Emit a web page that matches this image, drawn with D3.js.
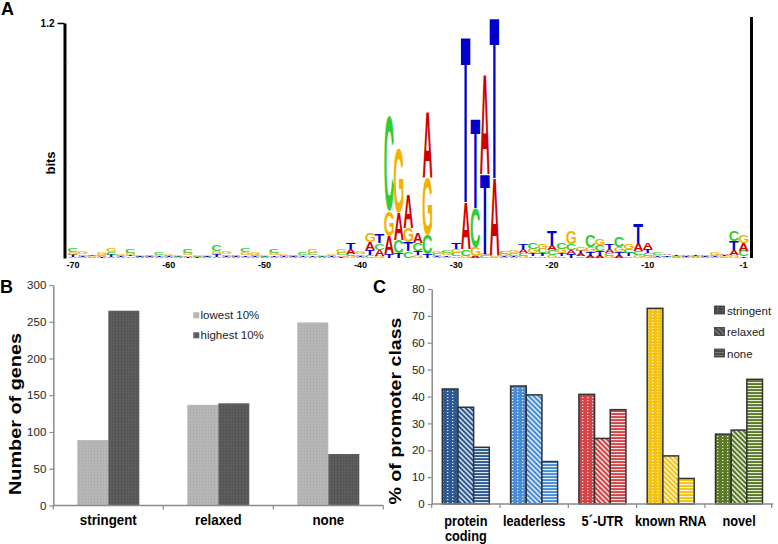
<!DOCTYPE html>
<html><head><meta charset="utf-8">
<script src="https://cdn.jsdelivr.net/npm/d3@7"></script>
<style>
body{margin:0;background:#fff}
svg{display:block}
text{font-family:'Liberation Sans',Arial,Helvetica,sans-serif}
</style>
</head><body>
<svg id="chart" width="778" height="544"></svg>
<script>
// ---------------- DATA ----------------
// Panel A: sequence logo, 71 columns (-70 ... -1), information content per base (bits)
const logoPositions = d3.range(-70, 1);
const logoTickValues = [-70, -60, -50, -40, -30, -20, -10, 0];
const logoTickLabels = ["-70", "-60", "-50", "-40", "-30", "-20", "-10", "-1"];
const bitsA = [.006,.005,.004,.005,.006,.004,.008,.003,.003,.004,.004,.003,.008,.004,.003,.006,.005,.003,.005,.004,.003,.006,.004,.003,.004,.005,.003,.004,.008,.025,.006,.04,.03,.09,.14,.17,.05,.34,.005,.005,.008,.24,.01,.51,.40,.005,.006,.02,.008,.008,.025,.008,.02,.015,.01,.01,.02,.01,.008,.04,.035,.004,.008,.003,.006,.003,.003,.004,.008,.025,.038];
const bitsC = [.02,.008,.006,.007,.015,.006,.02,.003,.004,.01,.007,.004,.018,.005,.003,.03,.008,.004,.02,.008,.004,.022,.006,.004,.01,.012,.004,.005,.012,.012,.008,.015,.035,.485,.065,.035,.04,.10,.012,.015,.018,.035,.2,.01,.005,.015,.012,.015,.035,.024,.024,.035,.035,.008,.06,.03,.015,.05,.02,.02,.015,.01,.004,.003,.003,.003,.004,.006,.004,.055,.03];
const bitsG = [.012,.01,.004,.01,.022,.006,.01,.004,.003,.008,.008,.004,.012,.006,.004,.015,.012,.003,.015,.014,.004,.01,.008,.003,.006,.018,.004,.008,.02,.01,.01,.045,.01,.128,.33,.075,.015,.29,.015,.01,.02,.012,.045,.01,.005,.01,.015,.01,.025,.028,.015,.025,.065,.02,.025,.035,.01,.025,.025,.015,.01,.008,.003,.003,.003,.003,.003,.01,.005,.015,.042];
const bitsT = [.01,.005,.004,.004,.01,.004,.008,.003,.003,.004,.004,.003,.006,.003,.003,.012,.005,.003,.008,.005,.003,.008,.004,.003,.004,.008,.003,.004,.006,.03,.006,.025,.045,.02,.025,.045,.02,.02,.005,.008,.035,.85,.455,.41,.82,.005,.006,.025,.015,.015,.07,.015,.018,.015,.02,.025,.025,.02,.018,.1,.02,.004,.006,.003,.005,.003,.003,.004,.006,.045,.008];
const bitsTicks = [1.2];

// Panel B
const promoterTypes = ["stringent", "relaxed", "none"];
const expressionGroups = ["lowest 10%", "highest 10%"];
const lowest10 = [89, 137, 249];
const highest10 = [265, 139, 70];
const genesTicks = [0, 50, 100, 150, 200, 250, 300];

// Panel C
const geneClasses = ["protein\ncoding", "leaderless", "5\u00B4-UTR", "known RNA", "novel"];
const promoterClasses = ["stringent", "relaxed", "none"];
const pctStringent = [42.8, 43.9, 40.8, 72.8, 26.0];
const pctRelaxed = [36.0, 40.6, 24.4, 17.9, 27.5];
const pctNone = [21.1, 15.8, 35.1, 9.5, 46.4];
const pctTicks = [0, 10, 20, 30, 40, 50, 60, 70, 80];

// ---------------- STYLE ----------------
const baseColors = {A: "#d00000", C: "#33cc33", G: "#f2b200", T: "#0000cc"};
const classColors = ["#2c5a94", "#4a8cd6", "#d24548", "#f3c412", "#5a7a25"];
const FONT = "'Liberation Sans', Arial, Helvetica, sans-serif";

const svg = d3.select("#chart");
const defs = svg.append("defs");

// compress a text horizontally (along its baseline) to ratio of its natural length
function squeeze(sel, ratio) {
  sel.each(function () {
    const n = this.getComputedTextLength();
    d3.select(this).attr("textLength", n * ratio).attr("lengthAdjust", "spacingAndGlyphs");
  });
}

// ---------------- PANEL A ----------------
const yA = d3.scaleLinear().domain([0, 1.2]).range([258, 23]);
const xA = d3.scaleBand().domain(logoPositions).range([68.2, 748.4]).padding(0);
const gA = svg.append("g");

const ctx = document.createElement("canvas").getContext("2d");
ctx.font = "bold 100px " + FONT;
const metrics = {};
["A", "C", "G", "T"].forEach(L => {
  const m = ctx.measureText(L);
  metrics[L] = {
    left: m.actualBoundingBoxLeft,
    w: m.actualBoundingBoxLeft + m.actualBoundingBoxRight,
    asc: m.actualBoundingBoxAscent,
    desc: m.actualBoundingBoxDescent
  };
});

const bits = {A: bitsA, C: bitsC, G: bitsG, T: bitsT};
const colW = xA.bandwidth() * 1.0;
logoPositions.forEach((p, i) => {
  const stack = ["A", "C", "G", "T"].map(L => ({L, h: bits[L][i]})).sort((a, b) => a.h - b.h);
  let yb = yA(0);
  const x0 = xA(p) + (xA.bandwidth() - colW) / 2;
  stack.forEach(s => {
    const hp = yA(0) - yA(s.h);
    if (hp <= 0) return;
    const m = metrics[s.L];
    const sx = colW / m.w, sy = hp / (m.asc + m.desc);
    gA.append("text")
      .attr("transform", `translate(${x0},${yb}) scale(${sx},${sy})`)
      .attr("x", m.left).attr("y", -m.desc)
      .attr("font-size", 100).attr("font-weight", "bold")
      .attr("fill", baseColors[s.L])
      .text(s.L);
    yb -= hp;
  });
});

const axA = gA.append("g").attr("transform", "translate(64.5,0)")
  .call(d3.axisLeft(yA).tickValues(bitsTicks).tickFormat(d3.format(".1f")).tickSize(7).tickPadding(3).tickSizeOuter(0));
axA.select(".domain").attr("stroke", "#000").attr("stroke-width", 3);
axA.selectAll(".tick line").attr("stroke", "#000").attr("stroke-width", 1.5);
axA.selectAll(".tick text").attr("font-family", FONT).attr("font-weight", "bold").attr("font-size", 10).attr("fill", "#000");
[0.5, 1.0].forEach(v => gA.append("line").attr("x1", 66).attr("x2", 68).attr("y1", yA(v)).attr("y2", yA(v)).attr("stroke", "#bbb").attr("stroke-width", 1));
gA.append("line").attr("x1", 751.5).attr("x2", 751.5).attr("y1", 17).attr("y2", 258).attr("stroke", "#000").attr("stroke-width", 3);
const axAx = gA.append("g").attr("transform", "translate(0,259)")
  .call(d3.axisBottom(xA).tickValues(logoTickValues).tickFormat((d, i) => logoTickLabels[i]).tickSize(0).tickPadding(3));
axAx.select(".domain").remove();
axAx.selectAll(".tick text").attr("font-family", FONT).attr("font-weight", "bold").attr("font-size", 9).attr("fill", "#000");
gA.append("text").attr("transform", "translate(55,163) rotate(-90)").attr("text-anchor", "middle")
  .attr("font-weight", "bold").attr("font-size", 13).text("bits");
svg.append("text").attr("x", 1).attr("y", 15).attr("font-weight", "bold").attr("font-size", 18).text("A");

// ---------------- PANEL B ----------------
function stipple(id, base, dot) {
  const p = defs.append("pattern").attr("id", id).attr("patternUnits", "userSpaceOnUse").attr("width", 3).attr("height", 3);
  p.append("rect").attr("width", 3).attr("height", 3).attr("fill", base);
  p.append("rect").attr("x", 1).attr("y", 1).attr("width", 1).attr("height", 1).attr("fill", dot);
}
stipple("stLight", "#b6b6b6", "#a3a3a3");
stipple("stDark", "#5c5c5c", "#474747");
const fillB = ["url(#stLight)", "url(#stDark)"];

const yB = d3.scaleLinear().domain([0, 300]).range([505.5, 285]);
const xB = d3.scaleBand().domain(promoterTypes).range([53.3, 383.3]).padding(0);
const xB1 = d3.scaleBand().domain(expressionGroups).range([24, 86]).padding(0);
const gB = svg.append("g");
const seriesB = [lowest10, highest10];

promoterTypes.forEach((t, i) => {
  expressionGroups.forEach((gname, j) => {
    const v = seriesB[j][i];
    gB.append("rect")
      .attr("x", xB(t) + xB1(gname)).attr("width", xB1.bandwidth())
      .attr("y", yB(v)).attr("height", yB(0) - yB(v))
      .attr("fill", fillB[j]);
  });
});

const axB = gB.append("g").attr("transform", `translate(${xB.range()[0]},0)`)
  .call(d3.axisLeft(yB).tickValues(genesTicks).tickSize(4).tickPadding(3).tickSizeOuter(0));
axB.select(".domain").attr("stroke", "#8a8a8a").attr("stroke-width", 1.5);
axB.selectAll(".tick line").attr("stroke", "#8a8a8a").attr("stroke-width", 1.2);
axB.selectAll(".tick text").attr("font-family", FONT).attr("font-size", 11.5).attr("fill", "#222");

gB.append("line").attr("x1", xB.range()[0]).attr("x2", xB.range()[1]).attr("y1", yB(0)).attr("y2", yB(0))
  .attr("stroke", "#8a8a8a").attr("stroke-width", 1.5);
promoterTypes.concat([null]).forEach(t => {
  const x = t === null ? xB.range()[1] : xB(t);
  gB.append("line").attr("x1", x).attr("x2", x).attr("y1", yB(0)).attr("y2", yB(0) + 4).attr("stroke", "#8a8a8a").attr("stroke-width", 1.2);
});
const catB = gB.selectAll(".catB").data(promoterTypes).enter().append("text").attr("class", "catB")
  .attr("x", d => xB(d) + xB.bandwidth() / 2).attr("y", 524.5).attr("text-anchor", "middle")
  .attr("font-weight", "bold").attr("font-size", 14.8).text(d => d);
squeeze(catB, 0.9);
expressionGroups.forEach((gname, j) => {
  const y = 312.3 + j * 20;
  gB.append("rect").attr("x", 193.3).attr("y", y).attr("width", 6).attr("height", 6).attr("fill", j ? "#5c5c5c" : "#b6b6b6");
  gB.append("text").attr("x", 200.5).attr("y", y + 7).attr("font-size", 11.5).attr("fill", "#222").text(gname);
});
gB.append("text").attr("transform", "translate(20.5,414) rotate(-90)").attr("text-anchor", "middle")
  .attr("font-weight", "bold").attr("font-size", 16).attr("textLength", 162).attr("lengthAdjust", "spacingAndGlyphs")
  .text("Number of genes");
svg.append("text").attr("x", 0).attr("y", 293).attr("font-weight", "bold").attr("font-size", 18).text("B");

// ---------------- PANEL C ----------------
function patDots(id, base, fg) {
  const p = defs.append("pattern").attr("id", id).attr("patternUnits", "userSpaceOnUse").attr("width", 5).attr("height", 3);
  p.append("rect").attr("width", 5).attr("height", 3).attr("fill", base);
  p.append("rect").attr("x", 2).attr("y", 1).attr("width", 1.3).attr("height", 1.1).attr("fill", fg);
}
function patDiag(id, base, fg) {
  const p = defs.append("pattern").attr("id", id).attr("patternUnits", "userSpaceOnUse").attr("width", 5).attr("height", 5);
  p.append("rect").attr("width", 5).attr("height", 5).attr("fill", base);
  p.append("path").attr("d", "M0,0L5,5M-1,4L1,6M4,-1L6,1").attr("stroke", fg).attr("stroke-width", 1.5);
}
function patHoriz(id, base, fg) {
  const p = defs.append("pattern").attr("id", id).attr("patternUnits", "userSpaceOnUse").attr("width", 4).attr("height", 3);
  p.append("rect").attr("width", 4).attr("height", 3).attr("fill", base);
  p.append("rect").attr("x", 0).attr("y", 1).attr("width", 4).attr("height", 1.1).attr("fill", fg);
}
const patFns = [patDots, patDiag, patHoriz];
classColors.forEach((c, i) => patFns.forEach((f, j) => f(`pc${i}_${j}`, c, "rgba(255,255,255,0.85)")));
patFns.forEach((f, j) => f(`pleg${j}`, "#4a4a4a", "rgba(255,255,255,0.25)"));

const yC = d3.scaleLinear().domain([0, 80]).range([504, 289]);
const xC = d3.scaleBand().domain(geneClasses).range([431.7, 773.2]).padding(0);
const xC1 = d3.scaleBand().domain(promoterClasses).range([10.6, 57.6]).padding(0);
const gC = svg.append("g");
const seriesC = [pctStringent, pctRelaxed, pctNone];

geneClasses.forEach((gc, i) => {
  promoterClasses.forEach((pc, j) => {
    const v = seriesC[j][i];
    gC.append("rect")
      .attr("x", xC(gc) + xC1(pc)).attr("width", xC1.bandwidth())
      .attr("y", yC(v)).attr("height", yC(0) - yC(v))
      .attr("fill", `url(#pc${i}_${j})`).attr("stroke", "#333").attr("stroke-width", 1.5);
  });
});

const axC = gC.append("g").attr("transform", `translate(${xC.range()[0]},0)`)
  .call(d3.axisLeft(yC).tickValues(pctTicks).tickSize(4).tickPadding(3).tickSizeOuter(0));
axC.select(".domain").attr("stroke", "#8a8a8a").attr("stroke-width", 1.5);
axC.selectAll(".tick line").attr("stroke", "#8a8a8a").attr("stroke-width", 1.2);
axC.selectAll(".tick text").attr("font-family", FONT).attr("font-size", 11.5).attr("fill", "#222");

gC.append("line").attr("x1", xC.range()[0]).attr("x2", xC.range()[1]).attr("y1", yC(0)).attr("y2", yC(0))
  .attr("stroke", "#8a8a8a").attr("stroke-width", 1.5);
geneClasses.concat([null]).forEach(t => {
  const x = t === null ? xC.range()[1] - 1.5 : xC(t);
  gC.append("line").attr("x1", x).attr("x2", x).attr("y1", yC(0)).attr("y2", yC(0) + 4).attr("stroke", "#8a8a8a").attr("stroke-width", 1.2);
});
geneClasses.forEach(gc => {
  const cx = xC(gc) + xC.bandwidth() / 2;
  gc.split("\n").forEach((line, k) => {
    const t = gC.append("text").attr("x", cx).attr("y", 526 + k * 15).attr("text-anchor", "middle")
      .attr("font-weight", "bold").attr("font-size", 14).text(line);
    squeeze(t, 0.91);
  });
});
promoterClasses.forEach((pc, j) => {
  const y = 306 + j * 21.5;
  gC.append("rect").attr("x", 714.5).attr("y", y).attr("width", 10).attr("height", 8)
    .attr("fill", `url(#pleg${j})`).attr("stroke", "#333").attr("stroke-width", 0.8);
  gC.append("text").attr("x", 727).attr("y", y + 8.5).attr("font-size", 11.5).attr("fill", "#222").text(pc);
});
gC.append("text").attr("transform", "translate(401,411) rotate(-90)").attr("text-anchor", "middle")
  .attr("font-weight", "bold").attr("font-size", 16).attr("textLength", 187).attr("lengthAdjust", "spacingAndGlyphs")
  .text("% of promoter class");
svg.append("text").attr("x", 373).attr("y", 293).attr("font-weight", "bold").attr("font-size", 18).text("C");
</script>
</body></html>
